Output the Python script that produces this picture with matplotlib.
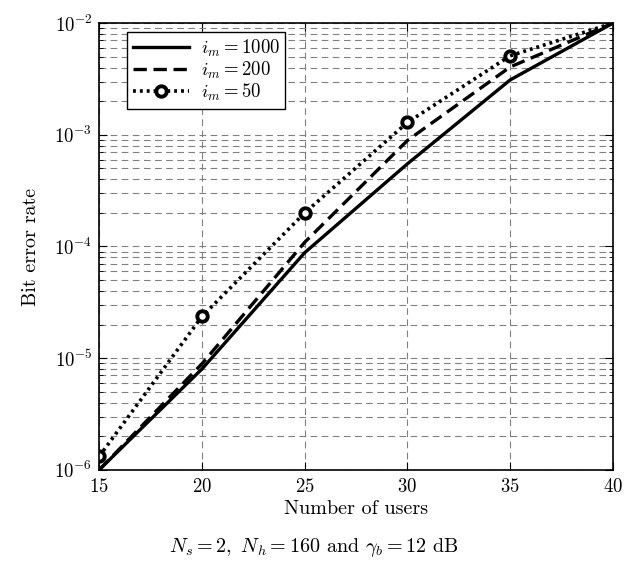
import numpy as np
import matplotlib
matplotlib.use("Agg")
import matplotlib.pyplot as plt
from matplotlib.ticker import LogLocator, NullFormatter

plt.rcParams["font.family"] = ["cmr10", "DejaVu Serif"]
plt.rcParams["mathtext.fontset"] = "cm"
plt.rcParams["axes.formatter.use_mathtext"] = True

# datos
users = [15, 20, 25, 30, 35, 40]
ber_1000 = [1.0e-6, 8.0e-6, 8.8e-5, 5.5e-4, 3.1e-3, 1.0e-2]
ber_200 = [1.0e-6, 8.9e-6, 1.09e-4, 8.9e-4, 4.05e-3, 1.0e-2]
ber_50 = [1.32e-6, 2.36e-5, 2.0e-4, 1.29e-3, 5.1e-3, 1.0e-2]
labels = [r"$i_m = 1000$", r"$i_m = 200$", r"$i_m = 50$"]

fig = plt.figure(figsize=(6.28, 5.64), dpi=100)
ax = fig.add_axes([0.158, 0.167, 0.818, 0.792])

dot = (0, (0.8, 1.1))
ax.plot(users, ber_1000, "k-", lw=2.4, label=labels[0])
ax.plot(users, ber_200, "k--", lw=2.4, dashes=(4, 2), label=labels[1])
ax.plot(users[:-1], ber_50[:-1], color="k", ls=dot, lw=2.6, marker="o", ms=7.5,
        mew=2.8, mfc="white", label=labels[2])
ax.plot(users[-2:], ber_50[-2:], color="k", ls=dot, lw=2.6)

ax.set_yscale("log")
ax.set_xlim(15, 40)
ax.set_ylim(1e-6, 1e-2)
ax.set_xticks(users)
ax.yaxis.set_major_locator(LogLocator(base=10, numticks=10))
ax.yaxis.set_minor_locator(LogLocator(base=10, subs=np.arange(2, 10), numticks=20))
ax.yaxis.set_minor_formatter(NullFormatter())

ax.grid(True, which="major", color="0.5", linestyle=(0, (6, 4)), lw=0.8)
ax.grid(True, which="minor", axis="y", color="0.5", linestyle=(0, (6, 4)), lw=0.8)
ax.tick_params(which="both", direction="in", top=True, right=True, labelsize=13.5)
ax.tick_params(which="major", length=6)
ax.tick_params(which="minor", length=3)
ax.tick_params(axis="x", pad=6)
ax.tick_params(axis="y", pad=5)
for s in ax.spines.values():
    s.set_linewidth(1.2)

ax.set_xlabel("Number of users", fontsize=14.5, labelpad=3)
ax.set_ylabel("Bit error rate", fontsize=14.5, labelpad=10)

leg = ax.legend(loc="upper left", bbox_to_anchor=(0.055, 0.98), fontsize=13.5,
                handlelength=3.0, fancybox=False, framealpha=1,
                edgecolor="black", borderpad=0.3, labelspacing=0.05,
                handletextpad=0.6, borderaxespad=0)
leg.get_frame().set_linewidth(1.0)

fig.text(0.5, 0.022, r"$N_s = 2,\ N_h = 160$ and $\gamma_b = 12$ dB",
         ha="center", fontsize=14.5)

fig.savefig("out.png", dpi=100)
